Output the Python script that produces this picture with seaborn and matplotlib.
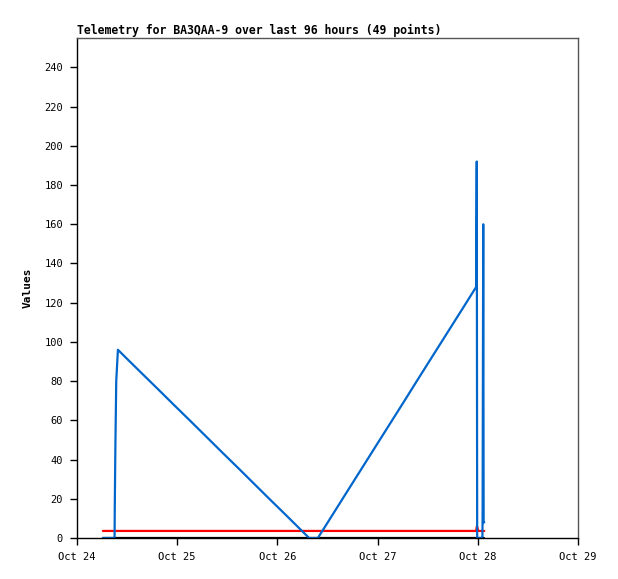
import numpy as np
import pandas as pd
import matplotlib
matplotlib.use('agg')
import seaborn as sns
import matplotlib.pyplot as plt
import matplotlib.dates as mdates

# hours after Oct 24 00:00 for every sample (49 points)
HOURS = [6.2, 6.8, 7.4, 8.0, 8.5, 9.0, 9.05, 9.2, 9.4, 9.8,
         12.5, 15.8, 19.5, 23.3, 27.1, 31.0, 34.8, 38.6, 42.3, 46.0,
         49.8, 52.7, 55.6, 57.7, 60.9, 64.5, 68.0, 71.5, 75.0, 78.5,
         82.0, 85.5, 89.0, 92.3, 95.6, 95.75, 95.85, 96.1, 96.3, 96.5,
         96.7, 96.85, 97.0, 97.1, 97.15, 97.3, 97.4, 97.5, 97.55]

CH1 = [0, 0, 0, 0, 0, 0, 16, 48, 80, 96,
       90.3, 83.4, 75.7, 67.7, 59.8, 51.6, 43.6, 35.7, 27.9, 20.1,
       12.2, 6.1, 0, 0, 10.8, 23.0, 34.8, 46.6, 58.4, 70.2,
       82.1, 93.9, 105.7, 116.8, 128, 192, 0, 0, 0, 0,
       0, 0, 0, 0, 10, 160, 8, 8, 8]

CH2 = [3.6] * 35 + [5.8, 5.8] + [3.6] * 12
CH3 = [0] * 49

START = pd.Timestamp('2023-10-24')

times = START + pd.to_timedelta(HOURS, unit='h')
frames = []
for name, vals in [('ch3', CH3), ('ch2', CH2), ('ch1', CH1)]:
    frames.append(pd.DataFrame({'time': times, 'value': vals, 'channel': name}))
df = pd.concat(frames, ignore_index=True)

sns.set_style('white')
plt.rcParams['font.family'] = ['DejaVu Sans Mono']
plt.rcParams['text.color'] = 'black'
plt.rcParams['axes.labelcolor'] = 'black'

fig = plt.figure(figsize=(6.18, 5.79), dpi=100)
ax = fig.add_axes([77 / 618, 1 - 538 / 579, 501 / 618, 500 / 579])

sns.lineplot(data=df, x='time', y='value', hue='channel',
             hue_order=['ch3', 'ch2', 'ch1'],
             palette={'ch3': 'black', 'ch2': '#ff0000', 'ch1': '#0066cc'},
             estimator=None, sort=False, linewidth=1.6, legend=False, ax=ax)

ax.set_xlim(START, START + pd.Timedelta(days=5))
ax.set_ylim(0, 255)
ax.set_yticks(np.arange(0, 241, 20))
ax.xaxis.set_major_locator(mdates.DayLocator())
ax.xaxis.set_major_formatter(mdates.DateFormatter('%b %d'))

ax.tick_params(axis='both', direction='out', length=5, width=1, colors='black',
               labelsize=7.5, pad=5)
ax.tick_params(axis='x', bottom=True)
ax.tick_params(axis='y', left=True)
for side, s in ax.spines.items():
    s.set_color('black' if side in ('left', 'bottom') else '#555555')
    s.set_linewidth(1)

ax.set_xlabel('')
ax.set_ylabel('Values', fontsize=8, fontweight='bold')
ax.yaxis.set_label_coords(-0.088, 0.5)
ax.set_title('Telemetry for BA3QAA-9 over last 96 hours (49 points)',
             loc='left', fontsize=8.3, fontweight='bold', pad=3, color='black')

fig.savefig('out.png', dpi=100)
